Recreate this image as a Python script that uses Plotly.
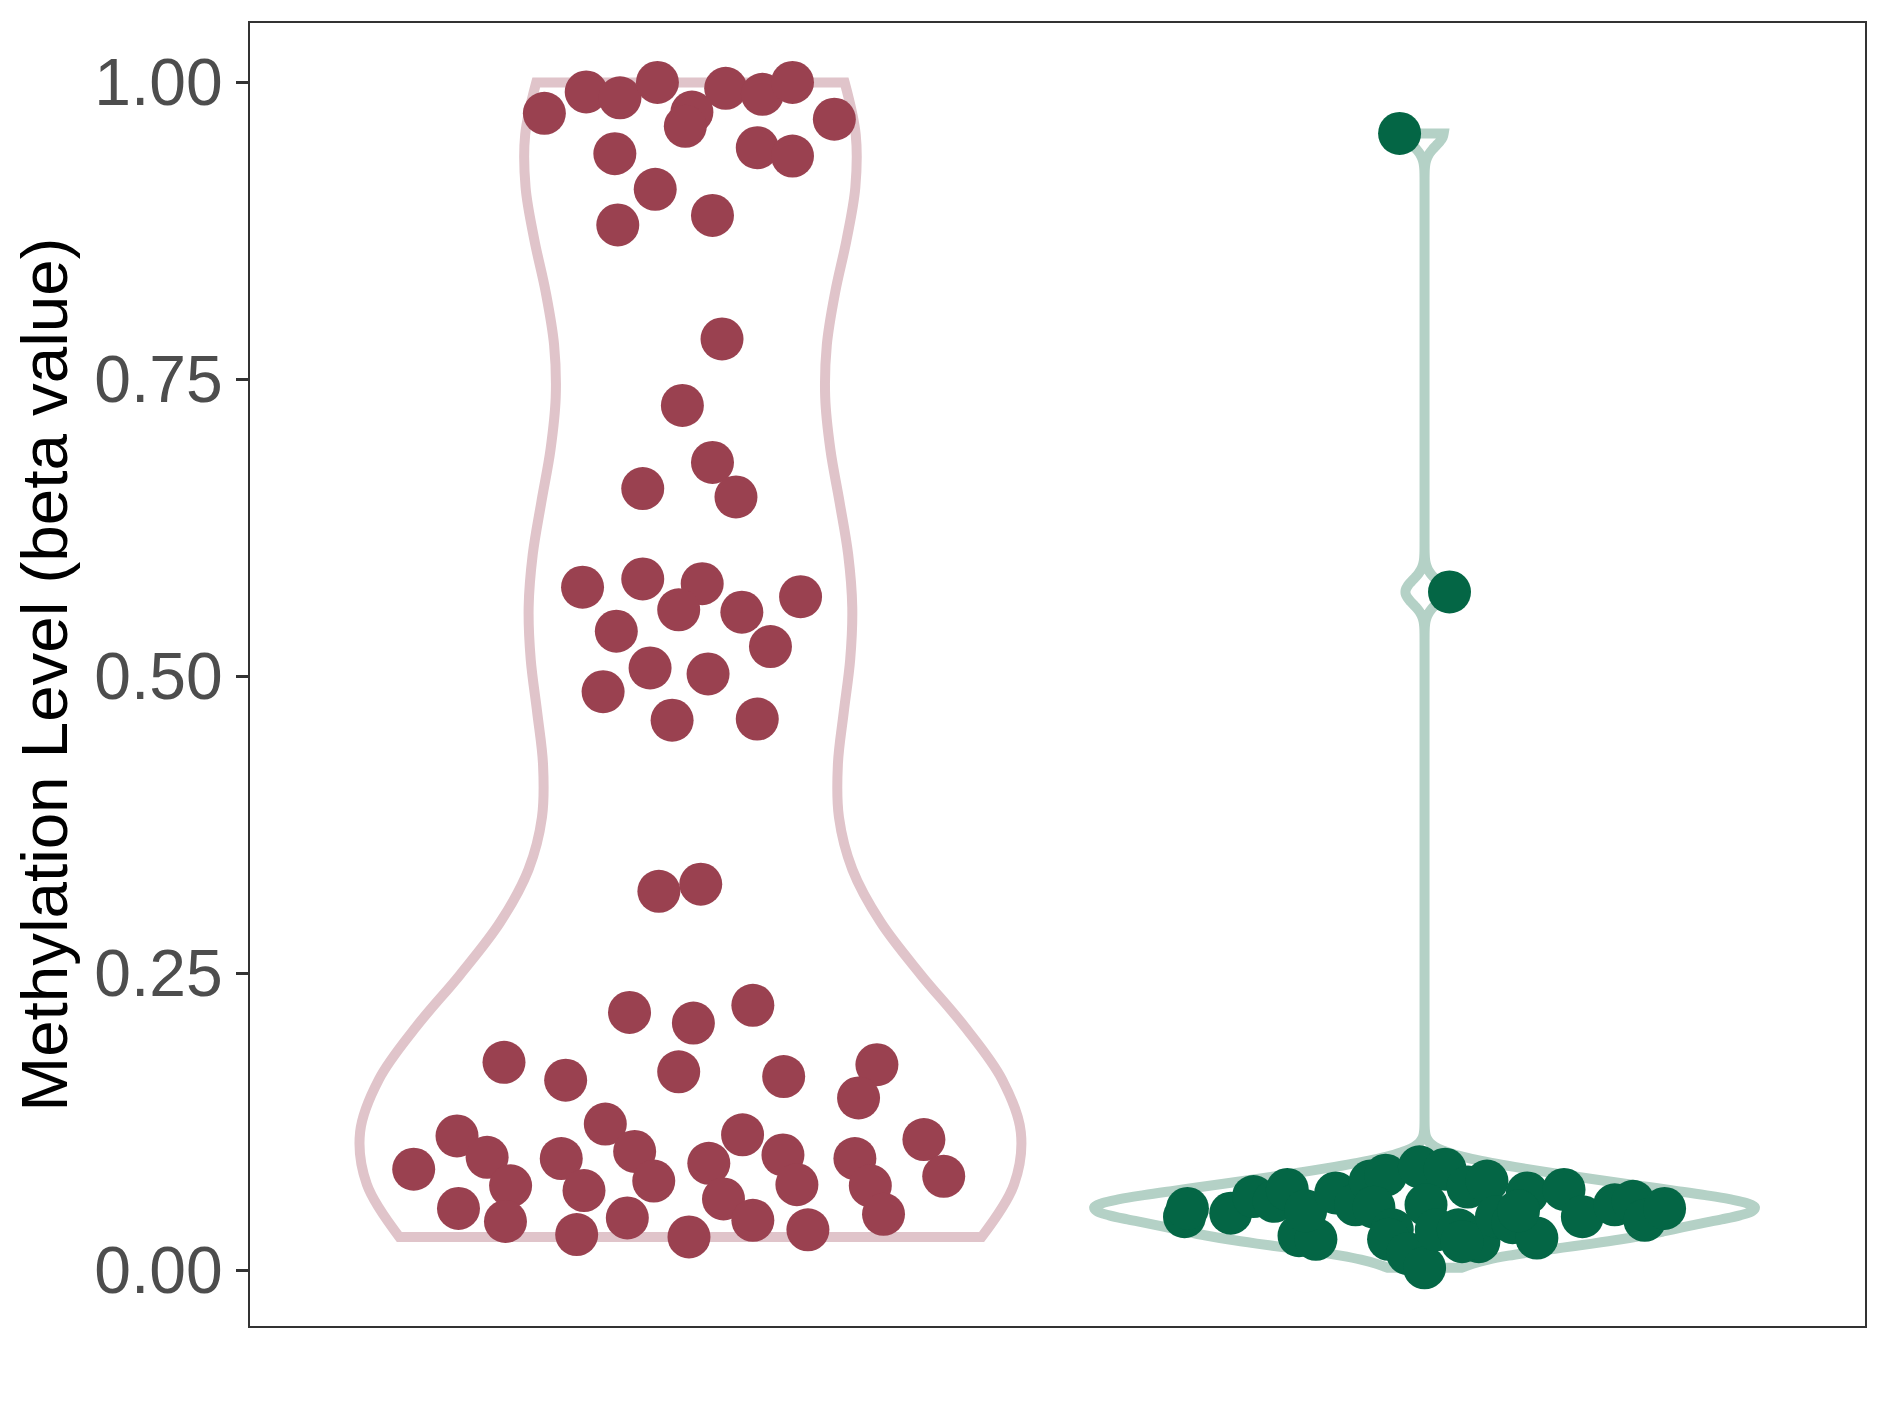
import numpy as np
import plotly.graph_objects as go

# ---- data ----
groups = ["Group A", "Group B"]
group_pos = [1, 2]

a_values = [0.974, 0.992, 0.987, 1.000, 0.975, 0.963, 0.995, 0.990, 1.000, 0.969,
            0.940, 0.945, 0.938, 0.910, 0.888, 0.880, 0.784, 0.728, 0.680, 0.658,
            0.651, 0.575, 0.582, 0.578, 0.567, 0.556, 0.554, 0.538, 0.525, 0.507,
            0.502, 0.487, 0.463, 0.464, 0.319, 0.325, 0.217, 0.208, 0.223, 0.175,
            0.160, 0.167, 0.163, 0.173, 0.145, 0.113, 0.123, 0.114, 0.110, 0.085,
            0.095, 0.094, 0.100, 0.090, 0.097, 0.094, 0.071, 0.067, 0.075, 0.072,
            0.071, 0.079, 0.052, 0.060, 0.041, 0.044, 0.042, 0.047, 0.030, 0.028,
            0.034]
a_jitter = [-0.199, -0.142, -0.096, -0.045, 0.002, -0.007, 0.048, 0.098, 0.139, 0.196,
            -0.103, 0.091, 0.139, -0.048, 0.030, -0.099, 0.043, -0.011, 0.030, -0.065,
            0.062, -0.147, -0.065, 0.016, 0.150, -0.016, 0.070, -0.101, 0.109, -0.055,
            0.024, -0.119, -0.025, 0.091, -0.043, 0.014, -0.083, 0.004, 0.085, -0.254,
            -0.170, -0.016, 0.127, 0.254, 0.229, -0.318, -0.116, 0.071, 0.318, -0.377,
            -0.277, -0.176, -0.076, 0.025, 0.126, 0.224, -0.245, -0.145, -0.050, 0.145,
            0.245, 0.345, -0.316, 0.045, -0.252, -0.086, 0.085, 0.263, -0.155, -0.002,
            0.160]

b_values = [0.957, 0.571, 0.045, 0.052, 0.048, 0.062, 0.058, 0.068, 0.029, 0.026,
            0.050, 0.065, 0.055, 0.075, 0.080, 0.053, 0.034, 0.026, 0.014, 0.002,
            0.087, 0.085, 0.055, 0.034, 0.034, 0.024, 0.024, 0.070, 0.075, 0.045,
            0.040, 0.065, 0.027, 0.050, 0.068, 0.045, 0.055, 0.058, 0.042, 0.052]
b_jitter = [-0.034, 0.034, -0.327, -0.323, -0.264, -0.233, -0.205, -0.187, -0.171, -0.148,
            -0.162, -0.121, -0.094, -0.074, -0.053, -0.069, -0.044, -0.049, -0.023, 0.000,
            -0.007, 0.028, 0.002, 0.016, 0.046, 0.074, 0.051, 0.059, 0.085, 0.098,
            0.120, 0.140, 0.153, 0.128, 0.190, 0.215, 0.259, 0.284, 0.300, 0.327]

y_ticks = [0.0, 0.25, 0.5, 0.75, 1.0]
y_ticklabels = ["0.00", "0.25", "0.50", "0.75", "1.00"]
y_title = "Methylation Level (beta value)"

line_colors = ["#E0C4CA", "#B4D1C6"]
point_colors = ["#9A4150", "#046645"]


def nrd0(v):
    v = np.asarray(v)
    sd = v.std(ddof=1)
    q75, q25 = np.percentile(v, [75, 25])
    lo = min(sd, (q75 - q25) / 1.34)
    return 0.9 * lo * len(v) ** (-0.2)


fig = go.Figure()
for pos, vals, jit, lc, pc in zip(group_pos, [a_values, b_values], [a_jitter, b_jitter],
                                   line_colors, point_colors):
    fig.add_trace(go.Violin(
        x=[pos] * len(vals), y=vals,
        bandwidth=nrd0(vals), spanmode="hard",
        scalemode="width", width=0.9,
        line=dict(color=lc, width=10),
        fillcolor="rgba(255,255,255,0)",
        points=False, box_visible=False, meanline_visible=False,
        showlegend=False, hoverinfo="skip",
    ))
    fig.add_trace(go.Scatter(
        x=[pos + j for j in jit], y=vals, mode="markers",
        marker=dict(color=pc, size=43, line=dict(width=0)),
        showlegend=False,
    ))

fig.update_layout(
    width=1889, height=1417,
    margin=dict(l=242, r=32, t=15, b=99),
    paper_bgcolor="white", plot_bgcolor="white",
    violinmode="overlay", violingap=0,
    font=dict(family="Liberation Sans, Arial, sans-serif"),
)
fig.update_xaxes(
    range=[0.4, 2.6], showticklabels=False, ticks="", showgrid=False, zeroline=False,
    showline=True, mirror=True, linecolor="#333333", linewidth=2,
)
fig.update_yaxes(
    range=[-0.047, 1.05], tickvals=y_ticks, ticktext=y_ticklabels,
    ticks="outside", ticklen=12, tickwidth=2.5, tickcolor="#333333",
    tickfont=dict(size=66, color="#4D4D4D"),
    showgrid=False, zeroline=False,
    showline=True, mirror=True, linecolor="#333333", linewidth=2,
    title=dict(text=y_title, font=dict(size=65.5, color="black"), standoff=14),
)

fig.write_html("out.html")
